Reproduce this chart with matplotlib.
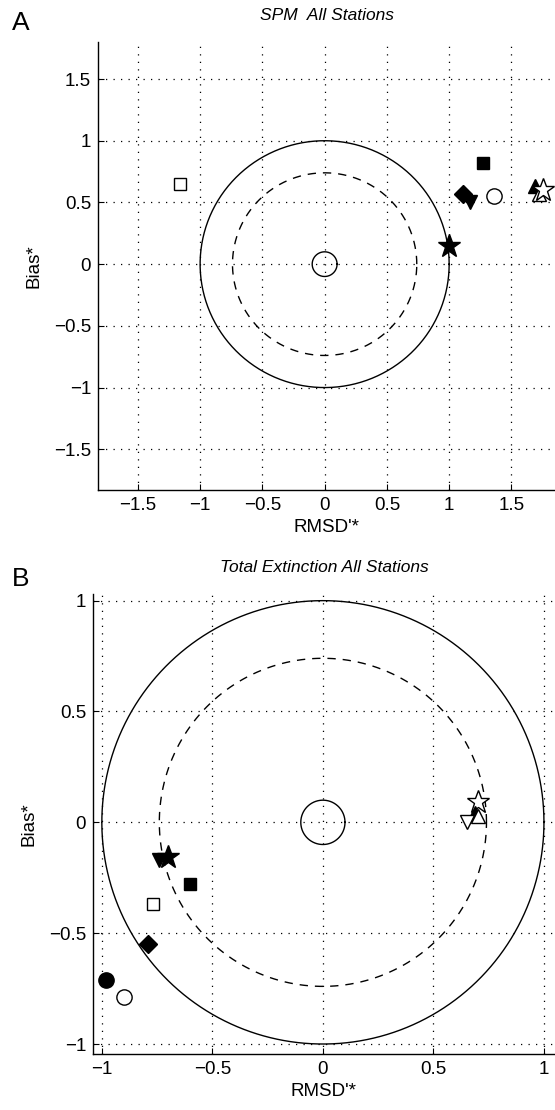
import numpy as np
import matplotlib
matplotlib.use('Agg')
from matplotlib import pyplot as plt

plt.rcParams['font.family'] = ['Liberation Sans', 'DejaVu Sans']

# target diagram points, panel A (SPM)
spm_x = [-1.16, 1.27, 1.11, 1.17, 1.36, 1.0, 1.69, 1.72, 1.75]
spm_y = [0.65, 0.82, 0.57, 0.50, 0.55, 0.15, 0.63, 0.57, 0.60]
spm_mk = ['s', 's', 'D', 'v', 'o', '*', '^', '^', '*']
spm_fill = [False, True, True, True, False, True, True, False, False]

# panel B (total extinction)
ext_x = [-0.98, -0.90, -0.79, -0.77, -0.60, -0.74, -0.70, 0.70, 0.69, 0.65, 0.70]
ext_y = [-0.71, -0.79, -0.55, -0.37, -0.28, -0.17, -0.155, 0.09, 0.04, 0.0, 0.03]
ext_mk = ['o', 'o', 'D', 's', 's', 'v', '*', '*', '^', 'v', '^']
ext_fill = [True, False, True, False, True, True, True, False, True, False, False]

ticks_a = [-1.5, -1, -0.5, 0, 0.5, 1, 1.5]
ticks_b = [-1, -0.5, 0, 0.5, 1]

msize = {'s': 9, 'D': 9, 'v': 10, 'o': 11, '*': 17, '^': 10}


def tick_text(v):
    s = ('%g' % abs(v))
    return ('\u2212' + s) if v < 0 else s


def panel(ax, xs, ys, mks, fills, ticks, title):
    t = np.linspace(0, 2 * np.pi, 400)
    ax.plot(np.cos(t), np.sin(t), 'k-', lw=1.0)
    ax.plot(0.74 * np.cos(t), 0.74 * np.sin(t), 'k--', lw=1.0, dashes=(6, 5))
    ax.plot(0.1 * np.cos(t), 0.1 * np.sin(t), 'k-', lw=1.0)
    for x, y, m, f in zip(xs, ys, mks, fills):
        ax.plot(x, y, marker=m, ms=msize[m], color='k',
                mfc='k' if f else 'white', mec='k', mew=1.0, ls='none')
    ax.set_xticks(ticks)
    ax.set_yticks(ticks)
    ax.set_xticklabels([tick_text(v) for v in ticks])
    ax.set_yticklabels([tick_text(v) for v in ticks])
    ax.grid(True, ls=(0, (1, 5)), color='k', lw=0.9)
    ax.tick_params(direction='in', labelsize=13.5, length=4, width=0.8, pad=5)
    for s in ['top', 'right']:
        ax.spines[s].set_visible(False)
    for s in ['left', 'bottom']:
        ax.spines[s].set_linewidth(1.0)
    ax.set_xlabel("RMSD'*", fontsize=13.5, labelpad=4)
    ax.set_ylabel('Bias*', fontsize=13.5, labelpad=8)
    ax.set_title(title, fontsize=12.5, style='italic', pad=16)


fig = plt.figure(figsize=(5.55, 11.1), dpi=100)

ax1 = fig.add_axes([98 / 555, 1 - 490 / 1110, 457 / 555, 448 / 1110])
panel(ax1, spm_x, spm_y, spm_mk, spm_fill, ticks_a, 'SPM  All Stations')
ax1.set_xlim(-1.82, 1.85)
ax1.set_ylim(-1.83, 1.80)

ax2 = fig.add_axes([93 / 555, 1 - 1054 / 1110, 462 / 555, 460 / 1110])
panel(ax2, ext_x, ext_y, ext_mk, ext_fill, ticks_b, 'Total Extinction All Stations')
ax2.set_xlim(-1.04, 1.05)
ax2.set_ylim(-1.045, 1.03)

fig.text(12 / 555, 1 - 30 / 1110, 'A', fontsize=19)
fig.text(12 / 555, 1 - 586 / 1110, 'B', fontsize=19)

fig.savefig('out.png', dpi=100)
